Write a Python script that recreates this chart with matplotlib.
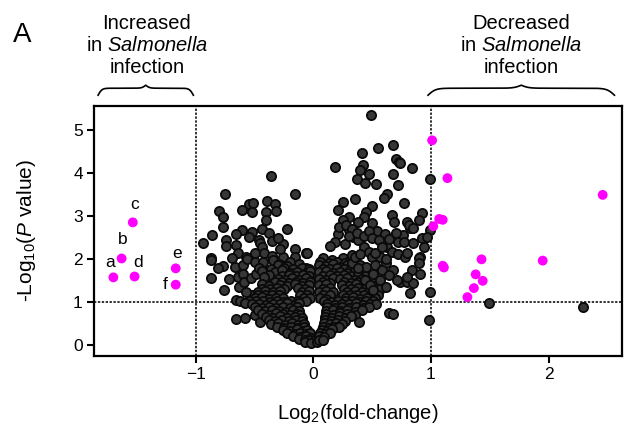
import numpy as np
import matplotlib
matplotlib.use("Agg")
import matplotlib.pyplot as plt

plt.rcParams["font.family"] = "Liberation Sans"
plt.rcParams["mathtext.fontset"] = "custom"
plt.rcParams["mathtext.rm"] = "Liberation Sans"
plt.rcParams["mathtext.it"] = "Liberation Sans:italic"

# --- data (log2 fold-change, -log10 P) ---
upper_left = [
    (-0.36, 3.94), (-0.75, 3.53), (-0.16, 3.53), (-0.39, 3.36), (-0.33, 3.28),
    (-0.55, 3.28), (-0.51, 3.32), (-0.61, 3.15), (-0.52, 3.11), (-0.40, 3.11),
    (-0.32, 3.13), (-0.80, 3.12), (-0.77, 2.98), (-0.40, 2.91), (-0.77, 2.76),
    (-0.22, 2.70), (-0.44, 2.70), (-0.38, 2.62), (-0.52, 2.64), (-0.61, 2.68),
    (-0.66, 2.59), (-0.86, 2.56), (-0.74, 2.45), (-0.46, 2.45), (-0.35, 2.43),
    (-0.94, 2.37), (-0.74, 2.32), (-0.66, 2.33), (-0.45, 2.37), (-0.44, 2.28),
    (-0.26, 2.36), (-0.16, 2.23), (-0.06, 2.14), (-0.42, 2.14), (-0.35, 2.08),
    (-0.50, 2.14), (-0.64, 2.14), (-0.87, 2.02), (-0.69, 2.02), (-0.57, 2.05),
    (-0.26, 2.06), (-0.16, 2.06), (-0.55, 2.52), (-0.30, 2.50), (-0.28, 2.25),
]
mid_left = [
    (-0.87, 1.98), (-0.77, 1.84), (-0.81, 1.79), (-0.67, 1.83), (-0.60, 1.87),
    (-0.56, 2.00), (-0.50, 1.93), (-0.43, 1.94), (-0.34, 1.98), (-0.29, 1.90),
    (-0.20, 1.94), (-0.87, 1.57), (-0.72, 1.54), (-0.64, 1.60), (-0.60, 1.65),
    (-0.76, 1.29), (-0.63, 1.36), (-0.59, 1.48), (-0.53, 1.56), (-0.49, 1.67),
    (-0.46, 1.79), (-0.40, 1.71), (-0.52, 1.17), (-0.57, 1.25), (-0.66, 1.05),
    (-0.62, 1.02), (-0.66, 0.60), (-0.58, 0.63), (-0.50, 0.70), (-0.455, 0.55),
]
left_lobe = [
    (-0.30, 1.86), (-0.22, 1.84), (-0.12, 1.88), (-0.06, 1.80),
    (-0.36, 1.78), (-0.25, 1.79), (-0.17, 1.77), (-0.10, 1.79), (-0.04, 1.77),
    (-0.44, 1.72), (-0.33, 1.70), (-0.27, 1.74), (-0.20, 1.68), (-0.14, 1.71),
    (-0.08, 1.66), (-0.03, 1.73),
    (-0.38, 1.64), (-0.27, 1.62), (-0.21, 1.64), (-0.15, 1.62), (-0.09, 1.63),
    (-0.04, 1.61),
    (-0.42, 1.58), (-0.30, 1.55), (-0.24, 1.52), (-0.18, 1.57), (-0.12, 1.53),
    (-0.06, 1.56), (-0.02, 1.50),
    (-0.33, 1.47), (-0.27, 1.48), (-0.21, 1.46), (-0.15, 1.48), (-0.09, 1.46),
    (-0.03, 1.47),
    (-0.44, 1.42), (-0.38, 1.38), (-0.28, 1.40), (-0.22, 1.37), (-0.16, 1.42),
    (-0.10, 1.39), (-0.04, 1.41),
    (-0.44, 1.32), (-0.37, 1.31), (-0.31, 1.33), (-0.25, 1.31), (-0.13, 1.33),
    (-0.07, 1.31),
    (-0.47, 1.24), (-0.41, 1.27), (-0.34, 1.23), (-0.28, 1.26), (-0.10, 1.24),
    (-0.04, 1.26),
    (-0.47, 1.17), (-0.41, 1.18), (-0.35, 1.16), (-0.29, 1.18), (-0.11, 1.17),
    (-0.05, 1.18),
    (-0.50, 1.10), (-0.44, 1.12), (-0.38, 1.08), (-0.32, 1.11), (-0.26, 1.09),
    (-0.08, 1.11), (-0.03, 1.09),
    (-0.55, 1.03), (-0.49, 1.02), (-0.43, 1.04), (-0.37, 1.01), (-0.31, 1.03),
    (-0.25, 1.01), (-0.19, 1.03), (-0.13, 1.02), (-0.06, 1.03),
    (-0.58, 0.98), (-0.52, 0.95), (-0.46, 0.97), (-0.40, 0.94), (-0.34, 0.97),
    (-0.28, 0.95), (-0.22, 0.98), (-0.16, 0.94), (-0.12, 0.99),
    (-0.50, 0.88), (-0.44, 0.86), (-0.38, 0.89), (-0.32, 0.87), (-0.26, 0.88),
    (-0.20, 0.86), (-0.14, 0.88),
    (-0.47, 0.81), (-0.41, 0.79), (-0.35, 0.82), (-0.29, 0.80), (-0.23, 0.78),
    (-0.17, 0.82), (-0.12, 0.79),
    (-0.44, 0.73), (-0.38, 0.71), (-0.32, 0.74), (-0.26, 0.72), (-0.20, 0.71),
    (-0.14, 0.73), (-0.11, 0.71),
    (-0.40, 0.66), (-0.34, 0.64), (-0.28, 0.67), (-0.22, 0.63), (-0.16, 0.66),
    (-0.10, 0.64),
    (-0.38, 0.58), (-0.33, 0.56), (-0.27, 0.58), (-0.21, 0.56), (-0.15, 0.58),
    (-0.10, 0.57),
    (-0.36, 0.49), (-0.30, 0.51), (-0.24, 0.48), (-0.18, 0.52), (-0.13, 0.48),
    (-0.08, 0.50),
    (-0.31, 0.43), (-0.25, 0.41), (-0.19, 0.43), (-0.13, 0.41), (-0.08, 0.42),
    (-0.26, 0.36), (-0.20, 0.34), (-0.14, 0.37), (-0.09, 0.33), (-0.05, 0.36),
    (-0.22, 0.28), (-0.16, 0.26), (-0.11, 0.28), (-0.06, 0.27), (-0.03, 0.29),
    (-0.17, 0.21), (-0.11, 0.19), (-0.06, 0.22), (-0.02, 0.18),
    (-0.12, 0.14), (-0.07, 0.12), (-0.03, 0.13), (0.01, 0.12),
    (-0.07, 0.08), (-0.02, 0.05), (0.03, 0.07),
]
right_lobe = [
    (0.08, 2.02), (0.16, 1.98), (0.25, 2.02), (0.30, 1.96),
    (0.06, 1.93), (0.13, 1.92), (0.20, 1.94), (0.27, 1.92), (0.34, 1.94),
    (0.05, 1.86), (0.11, 1.84), (0.17, 1.88), (0.23, 1.83), (0.29, 1.87),
    (0.35, 1.82), (0.40, 1.86),
    (0.08, 1.78), (0.14, 1.77), (0.20, 1.79), (0.26, 1.77), (0.32, 1.78),
    (0.38, 1.76),
    (0.05, 1.70), (0.11, 1.72), (0.17, 1.68), (0.23, 1.71), (0.29, 1.69),
    (0.35, 1.73), (0.41, 1.68),
    (0.08, 1.62), (0.14, 1.63), (0.20, 1.61), (0.26, 1.63), (0.32, 1.61),
    (0.38, 1.63), (0.44, 1.61),
    (0.05, 1.55), (0.11, 1.53), (0.17, 1.57), (0.23, 1.54), (0.29, 1.56),
    (0.35, 1.52), (0.41, 1.55), (0.46, 1.53),
    (0.08, 1.47), (0.14, 1.46), (0.26, 1.47), (0.32, 1.46), (0.38, 1.48),
    (0.44, 1.46), (0.50, 1.47),
    (0.05, 1.40), (0.11, 1.42), (0.24, 1.41), (0.30, 1.38), (0.36, 1.42),
    (0.42, 1.39), (0.48, 1.41), (0.53, 1.37),
    (0.08, 1.32), (0.14, 1.33), (0.26, 1.32), (0.32, 1.31), (0.38, 1.33),
    (0.44, 1.32), (0.50, 1.31), (0.55, 1.33),
    (0.05, 1.25), (0.11, 1.27), (0.17, 1.24), (0.29, 1.23), (0.35, 1.27),
    (0.41, 1.24), (0.47, 1.26), (0.53, 1.23), (0.57, 1.30),
    (0.08, 1.17), (0.14, 1.18), (0.25, 1.17), (0.31, 1.16), (0.37, 1.18),
    (0.43, 1.17), (0.49, 1.16), (0.55, 1.18),
    (0.06, 1.10), (0.11, 1.08), (0.28, 1.09), (0.34, 1.12), (0.40, 1.08),
    (0.46, 1.11), (0.52, 1.09),
    (0.09, 1.03), (0.15, 1.01), (0.21, 1.03), (0.27, 1.02), (0.33, 1.04),
    (0.39, 1.01), (0.45, 1.03), (0.51, 1.02),
    (0.12, 0.96), (0.18, 0.94), (0.24, 0.97), (0.30, 0.95), (0.36, 0.98),
    (0.42, 0.94), (0.48, 0.97), (0.53, 0.95),
    (0.12, 0.88), (0.18, 0.86), (0.24, 0.88), (0.30, 0.87), (0.36, 0.89),
    (0.42, 0.86), (0.47, 0.88),
    (0.11, 0.80), (0.17, 0.82), (0.23, 0.79), (0.29, 0.81), (0.35, 0.78),
    (0.41, 0.82),
    (0.11, 0.73), (0.17, 0.71), (0.23, 0.74), (0.29, 0.72), (0.35, 0.71),
    (0.10, 0.66), (0.16, 0.64), (0.22, 0.67), (0.27, 0.63), (0.32, 0.68),
    (0.10, 0.58), (0.15, 0.56), (0.21, 0.58), (0.27, 0.57),
    (0.09, 0.51), (0.14, 0.49), (0.19, 0.52), (0.24, 0.50),
    (0.08, 0.43), (0.13, 0.41), (0.18, 0.43), (0.22, 0.42),
    (0.07, 0.36), (0.12, 0.34), (0.16, 0.37),
    (0.06, 0.28), (0.10, 0.27), (0.14, 0.29),
    (0.05, 0.21), (0.09, 0.19),
    (0.05, 0.13), (0.08, 0.12),
]
right_sparse = [
    (0.49, 5.36), (0.68, 4.67), (0.55, 4.58), (0.41, 4.47), (0.18, 4.15),
    (0.70, 4.33), (0.73, 4.26), (0.84, 4.13), (0.74, 4.25), (0.42, 4.19),
    (0.40, 4.09), (0.47, 3.98), (0.68, 3.98), (0.37, 3.87), (0.44, 3.77),
    (0.53, 3.75), (0.72, 3.74), (0.63, 3.53), (0.60, 3.43), (0.35, 3.40),
    (0.25, 3.33), (0.77, 3.32), (0.50, 3.25), (0.21, 3.15), (0.30, 2.99),
    (0.25, 2.91), (0.45, 3.11), (0.43, 2.99), (0.67, 3.03), (0.92, 3.07),
    (0.90, 2.91), (0.38, 2.87), (0.50, 2.84), (0.69, 2.86), (0.80, 2.87),
    (0.82, 2.73), (0.21, 2.60), (0.30, 2.68), (0.34, 2.53), (0.54, 2.66),
    (0.61, 2.60), (0.75, 2.53), (0.72, 2.41), (0.92, 2.49), (0.18, 2.40),
    (0.27, 2.35), (0.38, 2.45), (0.43, 2.29), (0.47, 2.18), (0.58, 2.41),
    (0.63, 2.29), (0.67, 2.18), (0.85, 2.37), (-0.05, 2.14), (0.33, 2.10),
    (0.50, 2.06), (0.72, 2.12), (0.78, 2.06), (0.91, 2.06), (0.81, 2.80),
    (0.85, 2.74), (0.99, 2.68), (0.76, 2.56), (0.90, 2.02), (0.84, 1.74),
    (0.74, 1.48), (0.80, 1.48), (0.85, 1.44), (0.82, 1.21), (0.99, 1.25),
    (0.98, 0.59), (0.995, 3.86), (1.49, 0.98), (2.29, 0.90), (0.57, 2.06),
    (0.62, 1.91), (0.68, 1.75), (0.45, 1.83), (0.51, 1.67), (0.57, 1.52),
    (0.62, 1.36), (0.71, 1.52), (0.80, 1.60), (0.91, 1.67), (0.895, 1.91),
    (0.97, 2.53), (0.94, 2.29), (0.52, 1.87), (0.58, 1.75), (0.64, 1.63),
    (0.44, 1.52), (0.48, 1.40), (0.51, 1.29), (0.33, 1.91), (0.38, 1.79),
    (0.385, 0.55), (0.64, 0.74), (0.68, 0.73), (0.22, 2.75), (0.28, 2.80),
    (0.33, 2.70), (0.30, 2.55), (0.37, 2.62), (0.43, 2.55), (0.47, 2.65),
    (0.50, 2.50), (0.56, 2.45), (0.52, 2.15), (0.58, 2.28), (0.64, 2.47),
    (0.70, 2.62), (0.77, 2.40), (0.80, 2.15), (0.62, 2.00), (0.14, 2.30),
    (0.35, 2.05), (0.40, 2.12),
]

# highlighted metabolites (magenta)
hl_x = [-1.70, -1.63, -1.535, -1.52, -1.17, -1.17,
        1.01, 1.14, 2.46, 1.07, 1.10, 1.02, 1.43, 1.95, 1.10, 1.11, 1.38, 1.44, 1.365, 1.31]
hl_y = [1.58, 2.02, 2.86, 1.60, 1.79, 1.41,
        4.77, 3.89, 3.50, 2.94, 2.92, 2.77, 2.00, 1.97, 1.85, 1.81, 1.65, 1.50, 1.33, 1.12]

letters = ["a", "b", "c", "d", "e", "f"]
letter_x = [-1.73, -1.62, -1.52, -1.49, -1.16, -1.26]
letter_y = [1.81, 2.36, 3.16, 1.81, 2.02, 1.30]

fc_cut = 1.0
p_cut = 1.0

black = np.array(upper_left + mid_left + left_lobe + right_lobe + right_sparse)


def curly_brace(ax, x0, x1, y0, h1, h2):
    # horizontal brace, ends pointing down, tip pointing up in the middle
    t = np.linspace(0, 0.5, 150)
    b = 50
    part = h1 * (2 / (1 + np.exp(-b * t)) - 1) + h2 * 2 / (1 + np.exp(-b * (t - 0.5)))
    tt = np.concatenate([t, 1 - t[::-1]])
    yy = np.concatenate([part, part[::-1]])
    ax.plot(x0 + tt * (x1 - x0), y0 + yy, color="black", lw=1.2, clip_on=False)


fig = plt.figure(figsize=(6.24, 4.29), dpi=100)
ax = fig.add_axes([0.1506, 0.1702, 0.8454, 0.5828])

ax.axvline(-fc_cut, color="#333333", lw=1.4, ls=(0, (1.2, 0.8)), zorder=1)
ax.axvline(fc_cut, color="#333333", lw=1.4, ls=(0, (1.2, 0.8)), zorder=1)
ax.axhline(p_cut, color="#333333", lw=1.4, ls=(0, (1.2, 0.8)), zorder=1)

ax.scatter(black[:, 0], black[:, 1], s=44, facecolor="#363636",
           edgecolor="#0a0a0a", linewidth=1.3, zorder=2)
ax.scatter(hl_x, hl_y, s=50, color="#ff00ff", edgecolor="none", zorder=3)

for lab, lx, ly in zip(letters, letter_x, letter_y):
    ax.text(lx, ly, lab, fontsize=12.5, ha="center", va="baseline")

ax.set_xlim(-1.865, 2.62)
ax.set_ylim(-0.25, 5.57)
ax.set_xticks([-1, 0, 1, 2])
ax.set_yticks([0, 1, 2, 3, 4, 5])
ax.tick_params(labelsize=12.5, length=5, width=1.5, pad=3, direction="out")
for sp in ax.spines.values():
    sp.set_linewidth(1.6)

ax.set_xlabel("Log$_2$(fold-change)", fontsize=14.5, labelpad=14)
ax.set_ylabel("-Log$_{10}$($\\it{P}$ value)", fontsize=15)
ax.yaxis.set_label_coords(-0.106, 0.5)

# braces and headers above the plot
curly_brace(ax, -1.83, -1.02, 5.82, 0.163, 0.07)
curly_brace(ax, 0.975, 2.56, 5.82, 0.163, 0.07)
fig.text(147 / 624, 0.895, "Increased\nin $\\it{Salmonella}$\ninfection",
         fontsize=14.5, ha="center", va="center", multialignment="center")
fig.text(521 / 624, 0.895, "Decreased\nin $\\it{Salmonella}$\ninfection",
         fontsize=14.5, ha="center", va="center", multialignment="center")
fig.text(13 / 624, 1 - 42 / 429, "A", fontsize=20, ha="left", va="baseline")

fig.savefig("out.png", dpi=100)
